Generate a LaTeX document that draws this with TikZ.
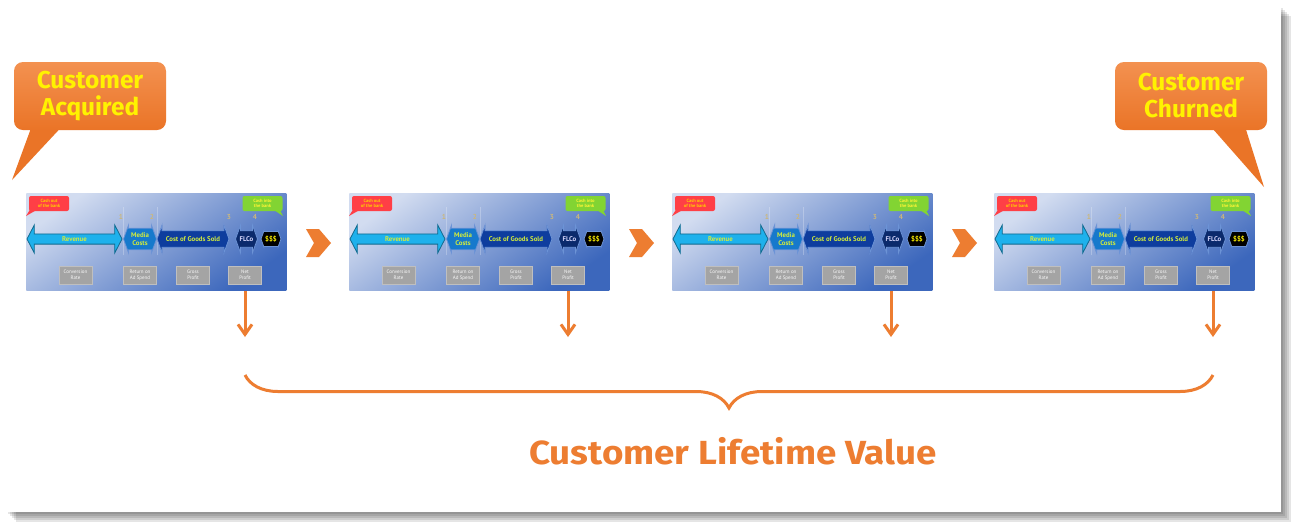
\documentclass[tikz,border=0pt]{standalone}
\usepackage{fontspec}
\setmainfont{PT Sans}
\newfontfamily\dinfont{Fira Sans}
\newfontfamily\clvfont{Fira Sans}[FakeStretch=1.1]
\usepackage{tikz}
\usetikzlibrary{arrows.meta,shapes.arrows,decorations.pathreplacing,calc}
\definecolor{cltorange}{HTML}{ED7D31}
\definecolor{calltop}{HTML}{F39150}
\definecolor{callbot}{HTML}{EA7427}
\definecolor{callyellow}{HTML}{FFF200}
\definecolor{bglight}{HTML}{D2DCF0}
\definecolor{bgmid}{HTML}{6F93D6}
\definecolor{bgdark}{HTML}{3C67BC}
\definecolor{revcyan}{HTML}{1EB1EC}
\definecolor{mediablue}{HTML}{1679CC}
\definecolor{cogsblue}{HTML}{0E3D9E}
\definecolor{flcoblue}{HTML}{0B2A6C}
\definecolor{edgeblue}{HTML}{6C93D6}
\definecolor{lblgreen}{HTML}{D2EC3C}
\definecolor{cashred}{HTML}{FF3F46}
\definecolor{cashgreen}{HTML}{82D433}
\definecolor{numtan}{HTML}{CBB77C}
\definecolor{boxgray}{HTML}{A4A4A4}

\tikzset{
  slidebg/.style={anchor=north west, inner sep=0pt, minimum width=130pt, minimum height=48.5pt,
    top color=bglight, middle color=bgmid, bottom color=bgdark, shading angle=35},
  finarrow/.style={double arrow, inner sep=0pt, align=center, minimum width=14pt,
    double arrow head extend=1pt, double arrow tip angle=140, draw=edgeblue, line width=0.4pt,
    text=lblgreen, font=\fontsize{3.4}{3.8}\selectfont\bfseries},
  revarrow/.style={finarrow, fill=revcyan, draw=revcyan!60!black, minimum height=47.5pt,
    double arrow head extend=2.5pt, double arrow tip angle=125},
  cashhex/.style={finarrow, fill=black, draw=edgeblue, minimum height=10pt, minimum width=7.5pt,
    double arrow head extend=0.01pt, text=yellow},
  stepnum/.style={text=numtan, inner sep=0pt, font=\fontsize{3.6}{4}\selectfont\bfseries},
  metricbox/.style={fill=boxgray, draw=boxgray!70!white, line width=0.3pt, inner sep=0pt,
    minimum width=16.5pt, minimum height=9pt, align=center, text=white!92!boxgray,
    font=\fontsize{2.5}{2.9}\selectfont},
  cashnote/.style={rounded corners=1pt, inner sep=0pt, minimum width=20pt, minimum height=7.5pt,
    align=center, font=\fontsize{2.3}{2.7}\selectfont\bfseries},
  slide/.pic={
    \node[slidebg] (-bg) at (0,0) {};
    \draw[white, opacity=0.25, line width=0.3pt] (97,14) -- (97,62) (131,14) -- (131,62);
    \node[revarrow] (-rev) at (48.5,46) {Revenue};
    \node[finarrow, fill=mediablue, minimum height=16.5pt] (-mc) at (114,46) {Media\\Costs};
    \node[finarrow, fill=cogsblue, minimum height=36pt] (-cogs) at (167,46) {Cost of Goods Sold};
    \node[finarrow, fill=flcoblue, minimum height=11pt, text=white!85!blue] (-flco) at (220.5,46) {FLCo};
    \node[cashhex] (-cash) at (245,46) {\$\$\$};
    \foreach \n/\x in {1/95,2/126,3/203,4/229}
      \node[stepnum] (-n\n) at (\x,24) {\n};
    \node[metricbox] (-cr) at (49.5,82) {Conversion\\Rate};
    \node[metricbox] (-roas) at (114,82) {Return on\\Ad Spend};
    \node[metricbox] (-gp) at (167,82) {Gross\\Profit};
    \node[metricbox] (-np) at (219,82) {Net\\Profit};
    \fill[cashred] (5,15) -- (0,23) -- (14,15) -- cycle;
    \node[cashnote, fill=cashred, text=orange!40!yellow] (-out) at (23,10.5) {Cash out\\of the bank};
    \fill[cashgreen] (245,15) -- (257,23) -- (253,15) -- cycle;
    \node[cashnote, fill=cashgreen, text=yellow!80!white] (-in) at (236.5,10.5) {Cash into\\the bank};
  },
  callout/.style={rounded corners=4.5pt, top color=calltop, bottom color=callbot,
    minimum width=76pt, minimum height=34pt, inner sep=0pt, align=center, text=callyellow,
    font=\dinfont\fontsize{12.2}{13.5}\selectfont\bfseries},
  cltarrow/.style={draw=cltorange, line width=1.5pt, -{Straight Barb[length=5pt,width=7pt]}},
  cltbrace/.style={draw=cltorange, line width=1.5pt, decorate, decoration={brace, amplitude=16.5pt}},
  clvtext/.style={text=cltorange, inner sep=0pt, font=\clvfont\fontsize{16.7}{18}\selectfont\bfseries}
}

\begin{document}
\begin{tikzpicture}[x=0.5pt,y=-0.5pt]
\useasboundingbox (0,0) rectangle (1292,526);
% page and its shadow
\foreach \d in {2,4,...,12}
  \fill[black, opacity=0.1] (4+\d,4+\d) rectangle (1279+\d,510+\d);
\fill[white] (0,0) rectangle (1281,512);

% callouts
\fill[callbot] (34,120) -- (12,180) -- (68,120) -- cycle;
\node[callout] (acq) at (90,96) {Customer\\Acquired};
\fill[callbot] (1205,120) -- (1264,187) -- (1243,120) -- cycle;
\node[callout] (chu) at (1191,96) {Customer\\Churned};

% the four slides
\foreach \i/\x in {1/26,2/349,3/672,4/994}
  \pic (s\i) at (\x,193) {slide};

% chevrons between slides
\foreach \x in {318,641,964}
  \fill[cltorange, shift={(\x,243)}] (-12,-14) -- (1,-14) -- (13,0) -- (1,14) -- (-12,14) -- (-4,0) -- cycle;

% net profit arrows and brace
\coordinate (lvl) at (0,337);
\coordinate (blvl) at (0,375);
\foreach \i in {1,...,4}{
  \coordinate (v\i) at (s\i-np |- lvl);
  \draw[cltarrow] (s\i-np |- s\i-bg.south) -- (v\i);
}
\coordinate (b1) at (s1-np |- blvl);
\coordinate (b4) at (s4-np |- blvl);
\draw[cltbrace] (b4) -- (b1);
\node[clvtext] (clv) at (733,451) {Customer Lifetime Value};
\end{tikzpicture}
\end{document}
